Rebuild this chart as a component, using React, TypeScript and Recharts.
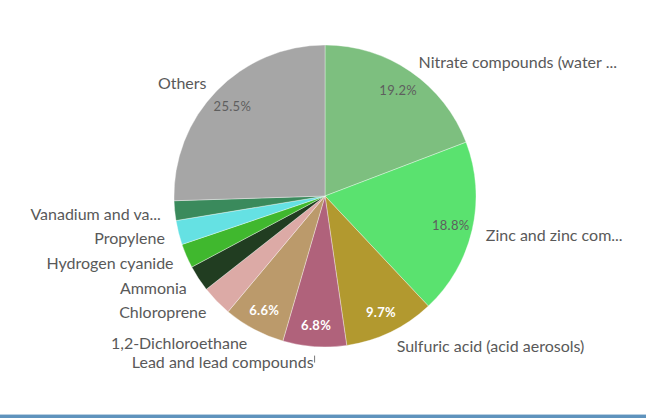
import React from 'react';
import { PieChart, Pie, Cell } from 'recharts';

// slices, clockwise from 12 o'clock
const names = [
  'Nitrate compounds (water ...',
  'Zinc and zinc com...',
  'Sulfuric acid (acid aerosols)',
  'Lead and lead compounds',
  '1,2-Dichloroethane',
  'Chloroprene',
  'Ammonia',
  'Hydrogen cyanide',
  'Propylene',
  'Vanadium and va...',
  'Others',
];
const shares = [19.2, 18.8, 9.7, 6.8, 6.6, 3.3, 2.8, 2.6, 2.6, 2.1, 25.5];
const colors = [
  '#7dbf7f', '#5ae26f', '#b2992f', '#b0627b', '#bb9a6b', '#dcaaa6',
  '#213d21', '#40b82e', '#65e1e3', '#3a8a5c', '#a6a6a6',
];
// which slices show their share inside, and in white
const showPct = [true, true, true, true, true, false, false, false, false, false, true];
const whitePct = [false, false, true, true, true, false, false, false, false, false, false];

const data = names.map((name, i) => ({ name, value: shares[i] }));

const RAD = Math.PI / 180;
const FONT = 'Lato, "Open Sans", sans-serif';

const renderLabel = (props: any) => {
  const { cx, cy, midAngle, outerRadius, index } = props;
  const cos = Math.cos(-midAngle * RAD);
  const sin = Math.sin(-midAngle * RAD);
  const nx = cx + (outerRadius + 14) * cos;
  const ny = cy + (outerRadius + 14) * sin + 1;
  const px = cx + (outerRadius - 22) * cos;
  const py = cy + (outerRadius - 22) * sin;
  const anchor = cos >= 0 ? 'start' : 'end';
  return (
    <g key={`lbl-${index}`}>
      <text
        x={nx}
        y={ny}
        textAnchor={anchor}
        dominantBaseline="central"
        fill="#595959"
        fontSize={16}
        fontFamily={FONT}
      >
        {names[index]}
      </text>
      {showPct[index] && (
        <text
          x={px}
          y={py}
          textAnchor="middle"
          dominantBaseline="central"
          fill={whitePct[index] ? '#ffffff' : '#5e5e5e'}
          fontSize={13}
          fontWeight={whitePct[index] ? 700 : 400}
          fontFamily={FONT}
          letterSpacing={0.3}
        >
          {shares[index].toFixed(1)}%
        </text>
      )}
      {index === 3 && (
        <line
          x1={nx + 1}
          y1={ny - 6}
          x2={nx + 1}
          y2={ny + 1}
          stroke="#777"
          strokeWidth={1}
        />
      )}
    </g>
  );
};

export default function App() {
  return (
    <div
      style={{
        position: 'absolute',
        left: 0,
        top: 0,
        width: 646,
        height: 418,
        background: '#fff',
        overflow: 'hidden',
      }}
    >
      <PieChart width={646} height={414}>
        <Pie
          data={data}
          dataKey="value"
          nameKey="name"
          cx={320}
          cy={191}
          outerRadius={151}
          startAngle={90}
          endAngle={-270}
          stroke="rgba(255,255,255,0.35)"
          strokeWidth={1}
          label={renderLabel}
          labelLine={false}
          isAnimationActive={false}
        >
          {data.map((d, i) => (
            <Cell key={`cell-${i}`} fill={colors[i]} />
          ))}
        </Pie>
      </PieChart>
      <div style={{ position: 'absolute', left: 0, bottom: 3, width: 646, height: 1, background: '#b9d0e2' }} />
      <div style={{ position: 'absolute', left: 0, bottom: 0, width: 646, height: 3, background: '#5f93bd' }} />
    </div>
  );
}
